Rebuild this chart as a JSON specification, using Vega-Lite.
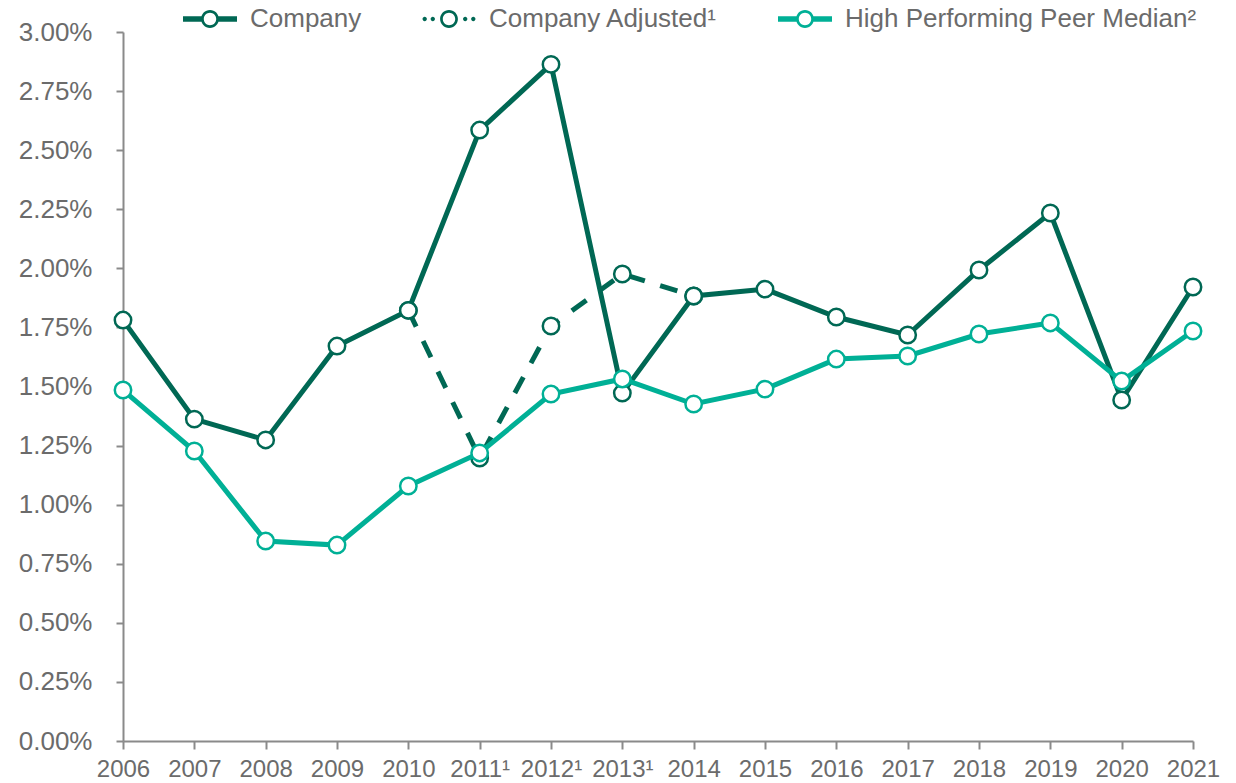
{
  "$schema": "https://vega.github.io/schema/vega-lite/v6.json",
  "width": 1070,
  "height": 709,
  "autosize": {"type": "none"},
  "padding": {"left": 123, "top": 32, "right": 43, "bottom": 42},
  "background": "white",
  "config": {
    "view": {"stroke": null},
    "font": "Liberation Sans"
  },
  "data": {
    "values": [
      {"year": "2006", "series": "Company", "value": 0.01781},
      {"year": "2007", "series": "Company", "value": 0.01362},
      {"year": "2008", "series": "Company", "value": 0.01274},
      {"year": "2009", "series": "Company", "value": 0.01671},
      {"year": "2010", "series": "Company", "value": 0.01822},
      {"year": "2011¹", "series": "Company", "value": 0.02585},
      {"year": "2012¹", "series": "Company", "value": 0.02863},
      {"year": "2013¹", "series": "Company", "value": 0.01472},
      {"year": "2014", "series": "Company", "value": 0.01883},
      {"year": "2015", "series": "Company", "value": 0.01912},
      {"year": "2016", "series": "Company", "value": 0.01794},
      {"year": "2017", "series": "Company", "value": 0.01718},
      {"year": "2018", "series": "Company", "value": 0.01993},
      {"year": "2019", "series": "Company", "value": 0.02234},
      {"year": "2020", "series": "Company", "value": 0.01443},
      {"year": "2021", "series": "Company", "value": 0.01921},
      {"year": "2010", "series": "Company Adjusted¹", "value": 0.01822},
      {"year": "2011¹", "series": "Company Adjusted¹", "value": 0.01197},
      {"year": "2012¹", "series": "Company Adjusted¹", "value": 0.01756},
      {"year": "2013¹", "series": "Company Adjusted¹", "value": 0.01976},
      {"year": "2014", "series": "Company Adjusted¹", "value": 0.01883},
      {"year": "2006", "series": "High Performing Peer Median²", "value": 0.01485},
      {"year": "2007", "series": "High Performing Peer Median²", "value": 0.01227},
      {"year": "2008", "series": "High Performing Peer Median²", "value": 0.00846},
      {"year": "2009", "series": "High Performing Peer Median²", "value": 0.00829},
      {"year": "2010", "series": "High Performing Peer Median²", "value": 0.01079},
      {"year": "2011¹", "series": "High Performing Peer Median²", "value": 0.01219},
      {"year": "2012¹", "series": "High Performing Peer Median²", "value": 0.01468},
      {"year": "2013¹", "series": "High Performing Peer Median²", "value": 0.01532},
      {"year": "2014", "series": "High Performing Peer Median²", "value": 0.01426},
      {"year": "2015", "series": "High Performing Peer Median²", "value": 0.01489},
      {"year": "2016", "series": "High Performing Peer Median²", "value": 0.01616},
      {"year": "2017", "series": "High Performing Peer Median²", "value": 0.01629},
      {"year": "2018", "series": "High Performing Peer Median²", "value": 0.01722},
      {"year": "2019", "series": "High Performing Peer Median²", "value": 0.01769},
      {"year": "2020", "series": "High Performing Peer Median²", "value": 0.01523},
      {"year": "2021", "series": "High Performing Peer Median²", "value": 0.01735}
    ]
  },
  "encoding": {
    "x": {
      "field": "year",
      "type": "ordinal",
      "scale": {
        "type": "point",
        "padding": 0,
        "domain": ["2006", "2007", "2008", "2009", "2010", "2011¹", "2012¹", "2013¹", "2014", "2015", "2016", "2017", "2018", "2019", "2020", "2021"]
      },
      "axis": {
        "title": null,
        "labelAngle": 0,
        "labelFontSize": 24,
        "labelColor": "#6b6b6b",
        "labelPadding": 8,
        "tickSize": 8,
        "tickWidth": 2,
        "tickColor": "#8a8a8a",
        "domainColor": "#8a8a8a",
        "domainWidth": 2,
        "grid": false
      }
    },
    "y": {
      "field": "value",
      "type": "quantitative",
      "scale": {"domain": [0, 0.03], "nice": false, "zero": true},
      "axis": {
        "title": null,
        "format": ".2%",
        "values": [0, 0.0025, 0.005, 0.0075, 0.01, 0.0125, 0.015, 0.0175, 0.02, 0.0225, 0.025, 0.0275, 0.03],
        "labelFontSize": 26,
        "labelColor": "#6b6b6b",
        "labelPadding": 24,
        "tickSize": 7,
        "tickWidth": 2,
        "tickColor": "#8a8a8a",
        "domainColor": "#8a8a8a",
        "domainWidth": 2,
        "grid": false
      }
    },
    "color": {
      "field": "series",
      "type": "nominal",
      "scale": {
        "domain": ["Company", "Company Adjusted¹", "High Performing Peer Median²"],
        "range": ["#006854", "#006854", "#00b096"]
      },
      "legend": {
        "title": null,
        "orient": "none",
        "direction": "horizontal",
        "columns": 3,
        "legendX": 60,
        "legendY": -40,
        "labelFontSize": 26,
        "labelColor": "#6b6b6b",
        "labelOffset": 13,
        "labelLimit": 0,
        "columnPadding": 60,
        "symbolSize": 2916,
        "encode": {
          "symbols": {
            "update": {
              "shape": {"signal": "datum.value === 'Company Adjusted¹' ? 'M-0.98,0A0.08,0.08 0 1,1 -0.82,0A0.08,0.08 0 1,1 -0.98,0Z M-0.68,0A0.08,0.08 0 1,1 -0.52,0A0.08,0.08 0 1,1 -0.68,0Z M0.52,0A0.08,0.08 0 1,1 0.68,0A0.08,0.08 0 1,1 0.52,0Z M0.82,0A0.08,0.08 0 1,1 0.98,0A0.08,0.08 0 1,1 0.82,0Z M-0.33,0A0.33,0.33 0 1,1 0.33,0A0.33,0.33 0 1,1 -0.33,0Z M-0.23,0A0.23,0.23 0 1,0 0.23,0A0.23,0.23 0 1,0 -0.23,0Z' : 'M-1,-0.1H-0.3V0.1H-1Z M0.3,-0.1H1V0.1H0.3Z M-0.33,0A0.33,0.33 0 1,1 0.33,0A0.33,0.33 0 1,1 -0.33,0Z M-0.23,0A0.23,0.23 0 1,0 0.23,0A0.23,0.23 0 1,0 -0.23,0Z'"},
              "fill": {"signal": "datum.value === 'High Performing Peer Median²' ? '#00b096' : '#006854'"},
              "stroke": {"value": "transparent"},
              "strokeWidth": {"value": 0},
              "opacity": {"value": 1},
              "fillOpacity": {"value": 1}
            }
          }
        }
      }
    }
  },
  "layer": [
    {
      "transform": [{"filter": "datum.series === 'Company'"}],
      "mark": {"type": "line", "strokeWidth": 5}
    },
    {
      "transform": [{"filter": "datum.series === 'Company'"}],
      "mark": {"type": "point", "filled": false, "fill": "white", "fillOpacity": 1, "opacity": 1, "size": 270, "strokeWidth": 2.5}
    },
    {
      "transform": [{"filter": "datum.series === 'Company Adjusted¹'"}],
      "mark": {"type": "line", "strokeWidth": 5, "strokeDash": [18, 16]}
    },
    {
      "transform": [{"filter": "datum.series === 'Company Adjusted¹'"}],
      "mark": {"type": "point", "filled": false, "fill": "white", "fillOpacity": 1, "opacity": 1, "size": 270, "strokeWidth": 2.5}
    },
    {
      "transform": [{"filter": "datum.series === 'High Performing Peer Median²'"}],
      "mark": {"type": "line", "strokeWidth": 5}
    },
    {
      "transform": [{"filter": "datum.series === 'High Performing Peer Median²'"}],
      "mark": {"type": "point", "filled": false, "fill": "white", "fillOpacity": 1, "opacity": 1, "size": 270, "strokeWidth": 2.5}
    }
  ]
}
